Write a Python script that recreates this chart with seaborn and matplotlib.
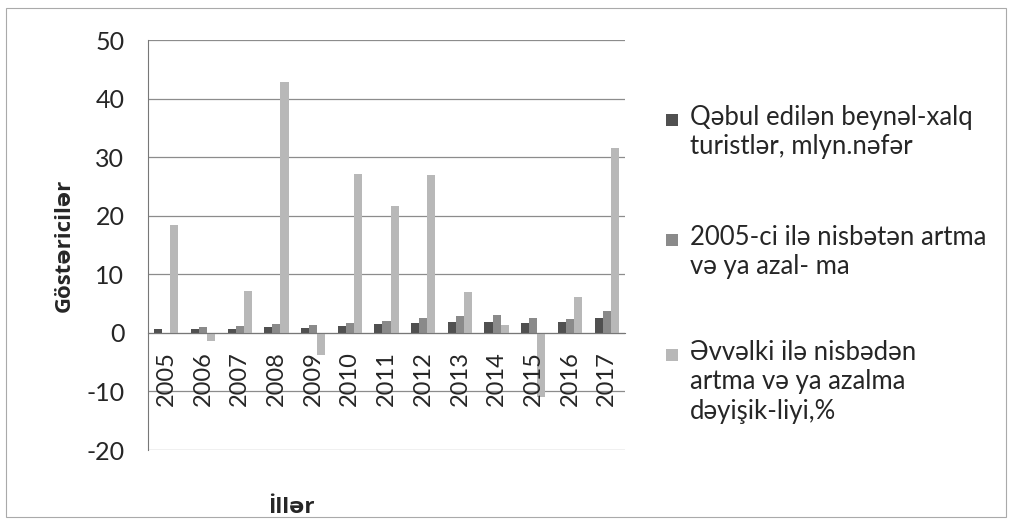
import numpy as np
import pandas as pd
import matplotlib
matplotlib.use("Agg")
import matplotlib.pyplot as plt
from matplotlib.patches import Rectangle
from matplotlib.ticker import FixedLocator
import seaborn as sns

years = ["2005", "2006", "2007", "2008", "2009", "2010", "2011",
         "2012", "2013", "2014", "2015", "2016", "2017"]
tourists = [0.6, 0.6, 0.6, 1.0, 0.8, 1.1, 1.5, 1.7, 1.9, 1.9, 1.7, 1.9, 2.5]
ratio_2005 = [0.0, 1.0, 1.1, 1.5, 1.3, 1.7, 2.0, 2.6, 2.9, 3.0, 2.5, 2.3, 3.7]
change_pct = [18.5, -1.4, 7.2, 42.8, -3.8, 27.1, 21.7, 27.0, 7.0, 1.3, -10.9, 6.1, 31.5]
series_names = [
    "Qəbul edilən beynəl-xalq\nturistlər, mlyn.nəfər",
    "2005-ci ilə nisbətən artma\nvə ya azal- ma",
    "Əvvəlki ilə nisbədən\nartma və ya azalma\ndəyişik-liyi,%",
]
yticks = [-20, -10, 0, 10, 20, 30, 40, 50]
colors = ["#505050", "#8a8a8a", "#b8b8b8"]

df = pd.DataFrame({
    "year": years * 3,
    "value": tourists + ratio_2005 + change_pct,
    "series": [series_names[0]] * 13 + [series_names[1]] * 13 + [series_names[2]] * 13,
})

sns.set_style("white")
plt.rcParams["font.family"] = ["Lato", "DejaVu Sans"]

W, H = 1012, 523
fig = plt.figure(figsize=(W / 100, H / 100), dpi=100)
ax = fig.add_axes([148 / W, 1 - 450 / H, 477 / W, 410 / H])

sns.barplot(data=df, x="year", y="value", hue="series", hue_order=series_names,
            order=years, palette=colors, width=0.66, ax=ax, legend=False,
            saturation=1, linewidth=0)

for s in ["top", "right"]:
    ax.spines[s].set_visible(False)
ax.spines["left"].set_color("#777777")
ax.spines["bottom"].set_color("#777777")
ax.spines["bottom"].set_position(("data", 0))

ax.set_ylim(-20, 50)
ax.set_xlim(-0.5, len(years) - 0.5)
ax.set_yticks(yticks)
ax.set_yticklabels([str(v) for v in yticks])
ax.yaxis.grid(True, color="#8c8c8c", linewidth=0.9)
ax.set_axisbelow(True)
ax.tick_params(axis="y", which="major", direction="out", length=5, color="#777777",
               pad=12, labelsize=18)
ax.set_xticks(range(len(years)))
ax.tick_params(axis="x", which="major", length=0, labelbottom=False)
ax.xaxis.set_minor_locator(FixedLocator(np.arange(-0.5, len(years), 1.0)))
ax.tick_params(axis="x", which="minor", direction="out", length=5, color="#777777")

# category labels sit just below the zero line (the category axis crosses at 0)
for i, yr in enumerate(years):
    ax.annotate(yr, xy=(i, 0), xycoords="data", xytext=(0, -13), textcoords="offset points",
                rotation=90, ha="center", va="top", fontsize=17, annotation_clip=False)

label_font = ["Open Sans", "DejaVu Sans"]
ax.set_xlabel("İllər", fontsize=16, fontweight="bold", family=label_font)
ax.xaxis.set_label_coords(0.30, -0.115)
ax.set_ylabel("Göstəricilər", fontsize=16, fontweight="bold", family=label_font, labelpad=8)

# legend: square marker aligned with the first line of each entry
leg_first_line_y = [120, 240, 355]
for name, c, yc in zip(series_names, colors, leg_first_line_y):
    fig.patches.append(Rectangle((666 / W, 1 - (yc + 6) / H), 12 / W, 12 / H,
                                 transform=fig.transFigure, facecolor=c, edgecolor="none"))
    fig.text(690 / W, 1 - (yc - 15) / H, name, fontsize=18.5, va="top", ha="left",
             linespacing=1.22)

fig.patches.append(Rectangle((6 / W, 6 / H), 1000 / W, 1 - 14 / H,
                             transform=fig.transFigure, fill=False,
                             edgecolor="#aaaaaa", linewidth=0.8))

fig.savefig("out.png", dpi=100, facecolor="white")
